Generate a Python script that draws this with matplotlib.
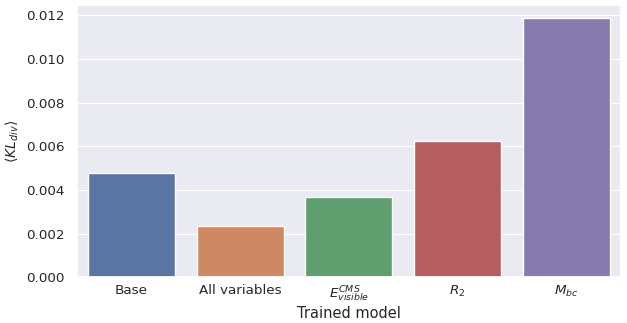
import matplotlib
matplotlib.use("Agg")
import matplotlib.pyplot as plt
import seaborn as sns

sns.set_theme(style="darkgrid", rc={"grid.linewidth": 0.8})

# mean KL divergence per trained model
models = ["Base", "All variables", r"$E_{visible}^{CMS}$", r"$R_2$", r"$M_{bc}$"]
kl_div = [0.00478, 0.00234, 0.00368, 0.00625, 0.01186]

fig, ax = plt.subplots(figsize=(6.27, 3.23), dpi=100)
sns.barplot(x=models, y=kl_div, hue=models, palette="deep", legend=False, ax=ax)
ax.set_xlabel("Trained model", fontsize=10.5, labelpad=1)
ax.set_ylabel(r"$\langle KL_{div} \rangle$", fontsize=10, labelpad=4)
ax.tick_params(axis="y", labelsize=9.7, pad=3)
ax.tick_params(axis="x", labelsize=9.7, pad=-1)
fig.subplots_adjust(left=0.123, right=0.99, top=0.983, bottom=0.142)
fig.savefig("out.png", dpi=100)
